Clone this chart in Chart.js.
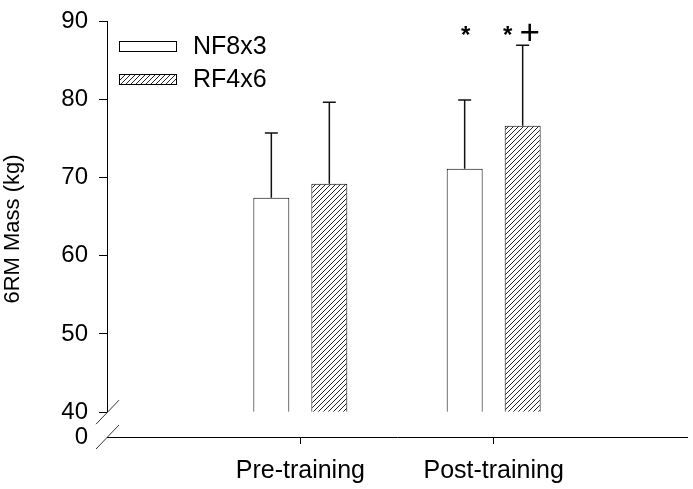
<!DOCTYPE html>
<html>
<head>
<meta charset="utf-8">
<script src="https://cdn.jsdelivr.net/npm/chart.js@4/dist/chart.umd.min.js"></script>
<style>
  html, body { margin: 0; padding: 0; background: #fff; }
  #wrap { width: 693px; height: 489px; }
</style>
</head>
<body>
<div id="wrap"><canvas id="rmChart"></canvas></div>
<script>
// data
var categories = ['Pre-training', 'Post-training'];
var seriesNames = ['NF8x3', 'RF4x6'];
var nfMean = [67.4, 71.1];
var nfErr = [8.3, 8.8];
var rfMean = [69.2, 76.6];
var rfErr = [10.4, 10.3];
var nfMarks = ['', '*'];
var rfMarks = ['', '*+'];
var yTicks = [40, 50, 60, 70, 80, 90];
var breakLabel = '0';
var yBottom = 36.83;   // where the "0" of the broken axis sits
var markLevel = 88.5;  // height of the significance marks

// diagonal hatch for the RF bars
function makeHatch() {
    var c = document.createElement('canvas');
    c.width = 5; c.height = 5;
    var g = c.getContext('2d');
    g.fillStyle = '#fff';
    g.fillRect(0, 0, 5, 5);
    g.strokeStyle = '#222';
    g.lineWidth = 1;
    g.beginPath();
    g.moveTo(0, 5); g.lineTo(5, 0);
    g.moveTo(-1, 1); g.lineTo(1, -1);
    g.moveTo(4, 6); g.lineTo(6, 4);
    g.stroke();
    return g.createPattern(c, 'repeat');
}

var ctx = document.getElementById('rmChart').getContext('2d');
var hatch = makeHatch();

function pad(arr) { return [null].concat(arr, [null]); }

const extras = {
    id: 'extras',
    afterDraw(chart) {
        var c = chart.ctx, ys = chart.scales.y, area = chart.chartArea;
        c.save();
        var ax = Math.round(area.left) + 0.5;
        var yTop = ys.getPixelForValue(yTicks[yTicks.length - 1]);
        var yBreak = ys.getPixelForValue(yTicks[0]);

        // y axis line, stopping at the break
        c.strokeStyle = '#000';
        c.lineWidth = 1;
        c.beginPath();
        c.moveTo(ax, yTop);
        c.lineTo(ax, yBreak);
        c.stroke();

        // break slashes
        c.strokeStyle = '#333';
        [yBreak, area.bottom].forEach(function(py) {
            c.beginPath();
            c.moveTo(ax - 11.5, py + 12);
            c.lineTo(ax + 11.5, py - 12);
            c.stroke();
        });

        // error bars (upper only)
        var errs = [nfErr, rfErr], means = [nfMean, rfMean];
        c.strokeStyle = '#111';
        c.lineWidth = 1.5;
        chart.data.datasets.forEach(function(ds, i) {
            var meta = chart.getDatasetMeta(i);
            means[i].forEach(function(m, j) {
                var bar = meta.data[j + 1];
                var top = ys.getPixelForValue(m + errs[i][j]);
                c.beginPath();
                c.moveTo(bar.x, bar.y);
                c.lineTo(bar.x, top);
                c.moveTo(bar.x - 6.5, top);
                c.lineTo(bar.x + 6.5, top);
                c.stroke();
            });
        });

        // significance marks
        var marks = [nfMarks, rfMarks];
        var my = ys.getPixelForValue(markLevel);
        c.fillStyle = '#000';
        c.textAlign = 'center';
        c.textBaseline = 'alphabetic';
        chart.data.datasets.forEach(function(ds, i) {
            var meta = chart.getDatasetMeta(i);
            marks[i].forEach(function(mk, j) {
                if (!mk) return;
                var bx = meta.data[j + 1].x;
                c.font = 'bold 24px "Liberation Sans", Arial, sans-serif';
                if (mk.length === 1) {
                    c.fillText('*', bx + 1, my + 10);
                } else {
                    c.fillText('*', bx - 15, my + 10);
                    c.font = '35px "Liberation Sans", Arial, sans-serif';
                    c.fillText('+', bx + 7, my + 11);
                }
            });
        });

        // legend inside the plot
        var lx = area.left + 12, ly = area.top + 20;
        c.lineWidth = 1;
        c.strokeStyle = '#000';
        c.font = '25px "Liberation Sans", Arial, sans-serif';
        c.textAlign = 'left';
        c.textBaseline = 'middle';
        chart.data.datasets.forEach(function(ds, i) {
            var by = ly + i * 33;
            c.fillStyle = ds.backgroundColor;
            c.fillRect(lx, by, 58, 11);
            c.strokeRect(lx + 0.5, by + 0.5, 57, 10);
            c.fillStyle = '#000';
            c.fillText(ds.label, lx + 74, by + 6);
        });
        c.restore();
    }
};

new Chart(ctx, {
    type: 'bar',
    data: {
        labels: [''].concat(categories, ['']),
        datasets: [
            {
                label: seriesNames[0],
                data: pad(nfMean),
                backgroundColor: '#fff',
                borderColor: '#000',
                borderWidth: 1,
                base: yTicks[0]
            },
            {
                label: seriesNames[1],
                data: pad(rfMean),
                backgroundColor: hatch,
                borderColor: '#000',
                borderWidth: 1,
                base: yTicks[0]
            }
        ]
    },
    options: {
        responsive: true,
        maintainAspectRatio: false,
        animation: false,
        events: [],
        categoryPercentage: 0.6,
        barPercentage: 0.62,
        layout: { padding: { top: 21, right: 6, left: 0, bottom: 0 } },
        plugins: {
            legend: { display: false },
            tooltip: { enabled: false }
        },
        scales: {
            x: {
                offset: false,
                afterFit: function(s) {
                    s.height = 52;
                    s.paddingLeft = 0;
                    s.paddingRight = 0;
                },
                grid: {
                    offset: false,
                    drawOnChartArea: false,
                    tickLength: 7,
                    color: function(c) {
                        return (c.index === 0 || c.index === categories.length + 1) ? 'rgba(0,0,0,0)' : '#000';
                    }
                },
                border: { display: true, color: '#000', width: 1 },
                ticks: {
                    autoSkip: false,
                    maxRotation: 0,
                    padding: 12,
                    color: '#000',
                    font: { family: '"Liberation Sans", Arial, sans-serif', size: 25 }
                }
            },
            y: {
                min: yBottom,
                max: yTicks[yTicks.length - 1],
                afterFit: function(s) {
                    s.width = 107;
                    s.paddingTop = 0;
                    s.paddingBottom = 0;
                },
                afterBuildTicks: function(s) {
                    s.ticks = [yBottom].concat(yTicks).map(function(v) { return { value: v }; });
                },
                grid: {
                    drawOnChartArea: false,
                    tickLength: 8,
                    color: function(c) { return c.index === 0 ? 'rgba(0,0,0,0)' : '#000'; }
                },
                border: { display: false },
                ticks: {
                    padding: 11,
                    color: '#000',
                    font: { family: '"Liberation Sans", Arial, sans-serif', size: 24 },
                    callback: function(v) { return v < yTicks[0] ? breakLabel : v; }
                },
                title: {
                    display: true,
                    text: '6RM Mass (kg)',
                    color: '#000',
                    padding: { top: 0, bottom: 0 },
                    font: { family: '"Liberation Sans", Arial, sans-serif', size: 22, weight: 'normal' }
                }
            }
        }
    },
    plugins: [extras]
});
</script>
</body>
</html>
